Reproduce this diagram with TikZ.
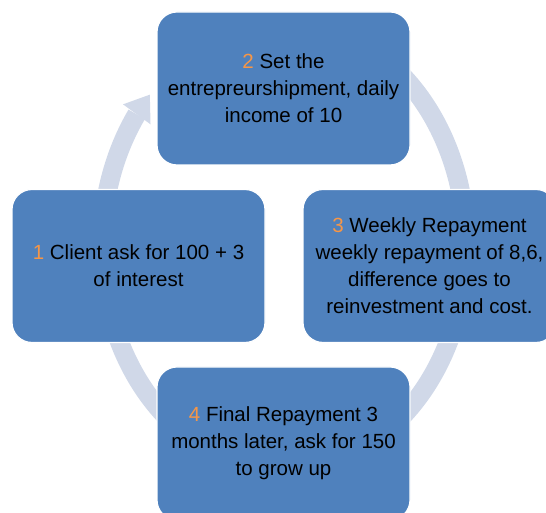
\documentclass[tikz,border=0pt]{standalone}
\usepackage{fontspec}
\setmainfont{Liberation Sans}
\usepackage{xcolor}
\usetikzlibrary{calc}
\definecolor{boxblue}{RGB}{79,129,189}
\definecolor{ringgray}{RGB}{208,216,232}
\definecolor{numorange}{RGB}{247,150,70}
\newcommand{\stepnum}[1]{\textcolor{numorange}{#1}}

\begin{document}
\begin{tikzpicture}[
          x=1pt, y=1pt,
          every node/.style={align=center, font=\fontsize{20.5}{27}\selectfont},
          stepbox/.style={fill=boxblue, draw=white, line width=1.2pt,
            rounded corners=20pt, minimum width=253pt, minimum height=153pt,
            inner sep=0pt}
        ]
          \useasboundingbox (0,0) rectangle (546,513);
          \clip (0,0) rectangle (546,513);
          \coordinate (ctr) at (284,267);

          % Ring running clockwise behind the boxes
          \draw[ringgray, line width=19pt]
            ($(ctr)+(110:182pt and 224pt)$)
            arc[start angle=110, end angle=-216, x radius=182pt, y radius=224pt];
          % Its head, upper left
          \fill[ringgray] ($(ctr)+(144:199pt and 241pt)$)
            -- ($(ctr)+(137.5:182pt and 224pt)$)
            -- ($(ctr)+(144:165pt and 207pt)$) -- cycle;

          % The four steps
          \node[stepbox] (client) at (138.5,247)
            {\stepnum{1} Client ask for 100 + 3\\of interest};
          \node[stepbox] (setup) at (283.5,424.5)
            {\stepnum{2} Set the\\entrepreurshipment, daily\\income of 10};
          \node[stepbox] (weekly) at (429.5,247)
            {\stepnum{3} Weekly Repayment\\weekly repayment of 8,6,\\difference goes to\\reinvestment and cost.};
          \node[stepbox] (final) at (283.5,69.5)
            {\stepnum{4} Final Repayment 3\\months later, ask for 150\\to grow up};
        \end{tikzpicture}
\end{document}
